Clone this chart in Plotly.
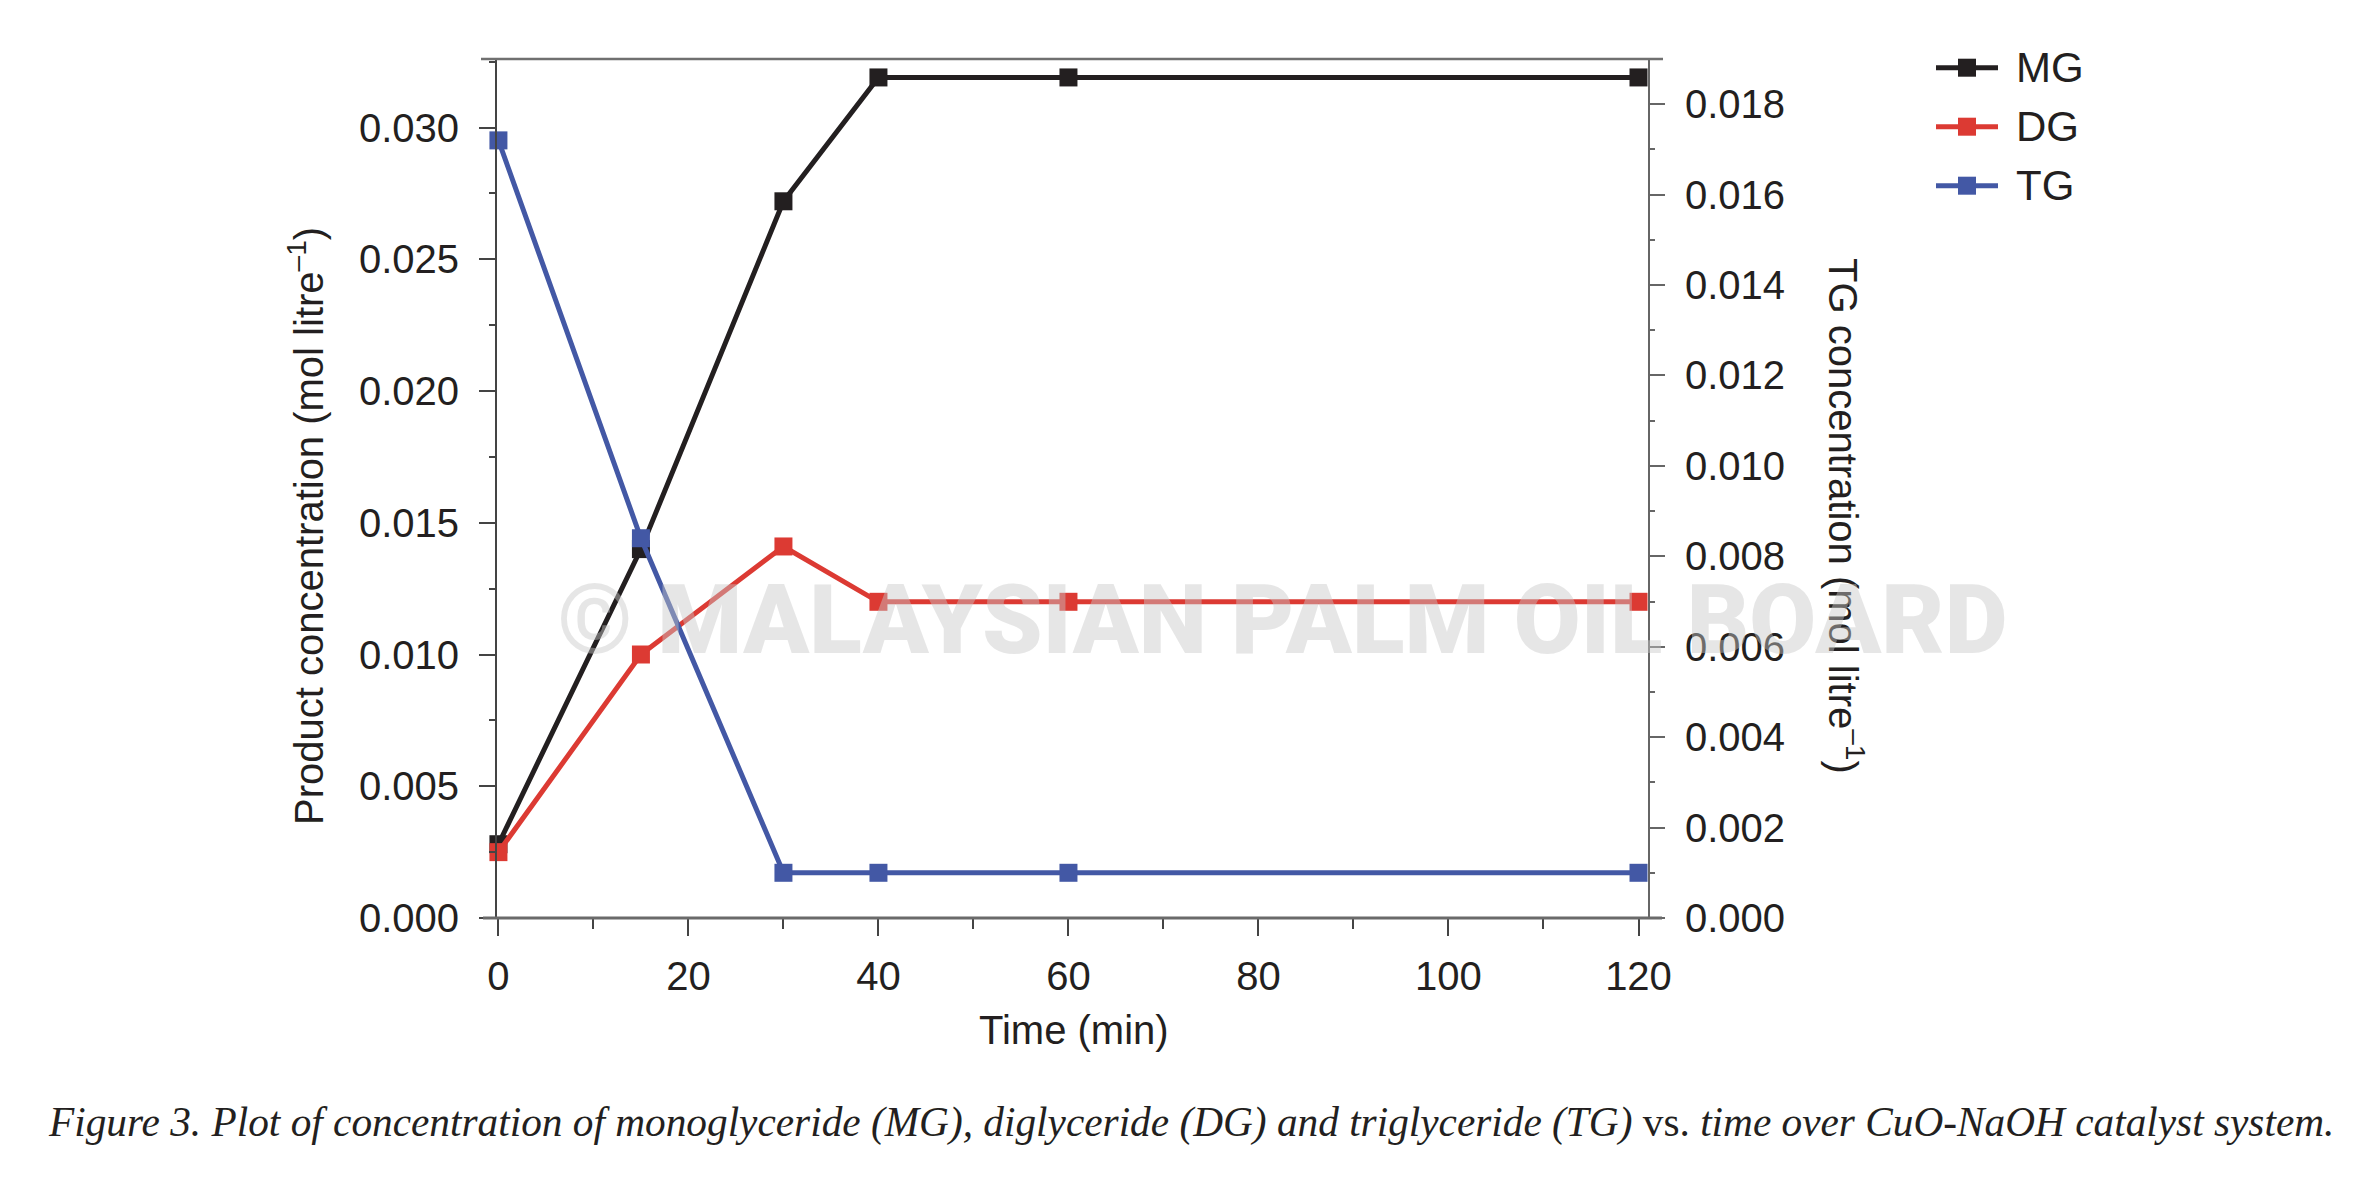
import plotly.graph_objects as go

# ---------------- data ----------------
time_min = [0, 15, 30, 40, 60, 120]
mg_conc = [0.0028, 0.0140, 0.0272, 0.0319, 0.0319, 0.0319]   # left axis
dg_conc = [0.0025, 0.0100, 0.0141, 0.0120, 0.0120, 0.0120]   # left axis
tg_conc = [0.0172, 0.0084, 0.0010, 0.0010, 0.0010, 0.0010]   # right axis
series_names = ["MG", "DG", "TG"]
x_ticks = [0, 20, 40, 60, 80, 100, 120]
y_left_ticks = [0.000, 0.005, 0.010, 0.015, 0.020, 0.025, 0.030]
y_right_ticks = [0.000, 0.002, 0.004, 0.006, 0.008, 0.010, 0.012, 0.014, 0.016, 0.018]

# ---------------- styling ----------------
W, H = 2380, 1180
PL, PR, PT, PB = 497, 1648, 59, 918
COL = {"MG": "#231f20", "DG": "#dc3a33", "TG": "#4358a5"}
FONT = "Liberation Sans, Arial, Helvetica, sans-serif"
TXT = "#231f20"


def px(x):
    return (x - PL) / (PR - PL)


def py(y):
    return (PB - y) / (PB - PT)


fig = go.Figure()

for name, vals, ax in [("MG", mg_conc, "y"), ("DG", dg_conc, "y"), ("TG", tg_conc, "y2")]:
    fig.add_trace(go.Scatter(
        x=time_min, y=vals, name=name, yaxis=ax, mode="lines+markers",
        line=dict(color=COL[name], width=5),
        marker=dict(symbol="square", size=18, color=COL[name], line=dict(width=0)),
        cliponaxis=False, showlegend=False,
    ))

shapes = []
annotations = []

# extended horizontal frame lines
shapes.append(dict(type="line", xref="paper", yref="paper", x0=px(481), x1=px(1663), y0=1, y1=1,
                   line=dict(color="#707070", width=2.5)))
shapes.append(dict(type="line", xref="paper", yref="paper", x0=px(483), x1=px(1662), y0=0, y1=0,
                   line=dict(color="#6a6a6a", width=3)))

# manual legend
legend_rows = [67.7, 126.7, 185.7]
for name, yy in zip(series_names, legend_rows):
    shapes.append(dict(type="line", xref="paper", yref="paper", x0=px(1936), x1=px(1998),
                       y0=py(yy), y1=py(yy), line=dict(color=COL[name], width=5)))
    shapes.append(dict(type="rect", xref="paper", yref="paper", x0=px(1958), x1=px(1976),
                       y0=py(yy + 9), y1=py(yy - 9), fillcolor=COL[name], line=dict(width=0)))
    annotations.append(dict(xref="paper", yref="paper", x=px(2014), y=py(yy), text=name,
                            showarrow=False, xanchor="left", yanchor="middle",
                            font=dict(family=FONT, size=42, color=TXT)))

# axis titles
annotations.append(dict(xref="paper", yref="paper", x=px(306), y=py(526),
                        text="Product concentration (mol litre<sup>–1</sup>)", textangle=-90,
                        showarrow=False, xanchor="center", yanchor="middle",
                        font=dict(family=FONT, size=40, color=TXT)))
annotations.append(dict(xref="paper", yref="paper", x=px(1846), y=py(516),
                        text="TG concentration (mol litre<sup>–1</sup>)", textangle=90,
                        showarrow=False, xanchor="center", yanchor="middle",
                        font=dict(family=FONT, size=40, color=TXT)))
annotations.append(dict(xref="paper", yref="paper", x=px(1074), y=py(1030),
                        text="Time (min)", showarrow=False, xanchor="center", yanchor="middle",
                        font=dict(family=FONT, size=40, color=TXT)))

# watermark
annotations.append(dict(xref="paper", yref="paper", x=px(1282), y=py(620),
                        text="© MALAYSIAN PALM OIL BOARD", showarrow=False,
                        xanchor="center", yanchor="middle",
                        font=dict(family="Roboto, Liberation Sans, sans-serif", size=97,
                                  color="rgba(200,200,200,0.45)", weight=900)))

# caption
annotations.append(dict(xref="paper", yref="paper", x=px(46), y=py(1122),
                        text="<i>Figure 3. Plot of concentration of monoglyceride (MG), diglyceride (DG) and "
                             "triglyceride (TG)</i> vs. <i>time over CuO-NaOH catalyst system.</i>",
                        showarrow=False, xanchor="left", yanchor="middle",
                        font=dict(family="Liberation Serif, Times New Roman, serif", size=41.3, color=TXT)))

fig.update_layout(
    width=W, height=H,
    margin=dict(l=PL, r=W - PR, t=PT, b=H - PB, pad=0),
    paper_bgcolor="white", plot_bgcolor="white",
    showlegend=False,
    font=dict(family=FONT, size=40, color=TXT),
    xaxis=dict(range=[-0.15, 121.0], tickmode="array", tickvals=x_ticks,
               ticktext=[str(v) for v in x_ticks],
               showgrid=False, zeroline=False, showline=False,
               ticks="outside", ticklen=17, tickwidth=1.5, tickcolor="#444",
               ticklabelstandoff=6,
               minor=dict(dtick=10, tick0=0, ticks="outside", ticklen=10, tickwidth=1.5,
                          tickcolor="#444", showgrid=False),
               tickfont=dict(family=FONT, size=40, color=TXT)),
    yaxis=dict(range=[0, 0.0326], tickmode="array", tickvals=y_left_ticks,
               ticktext=[f"{v:.3f}" for v in y_left_ticks],
               showgrid=False, zeroline=False, showline=True, linecolor="#444", linewidth=2,
               ticks="outside", ticklen=16, tickwidth=2, tickcolor="#444",
               ticklabelstandoff=12,
               minor=dict(dtick=0.0025, tick0=0, ticks="outside", ticklen=6, tickwidth=2,
                          tickcolor="#444", showgrid=False),
               tickfont=dict(family=FONT, size=40, color=TXT)),
    yaxis2=dict(range=[0, 0.0190], overlaying="y", side="right", anchor="x",
                tickmode="array", tickvals=y_right_ticks,
                ticktext=[f"{v:.3f}" for v in y_right_ticks],
                showgrid=False, zeroline=False, showline=True, linecolor="#666", linewidth=2,
                ticks="outside", ticklen=15, tickwidth=2, tickcolor="#666",
                ticklabelstandoff=12,
                minor=dict(dtick=0.001, tick0=0, ticks="outside", ticklen=5, tickwidth=2,
                           tickcolor="#666", showgrid=False),
                tickfont=dict(family=FONT, size=40, color=TXT)),
    shapes=shapes,
    annotations=annotations,
)

fig.write_html("out.html")
